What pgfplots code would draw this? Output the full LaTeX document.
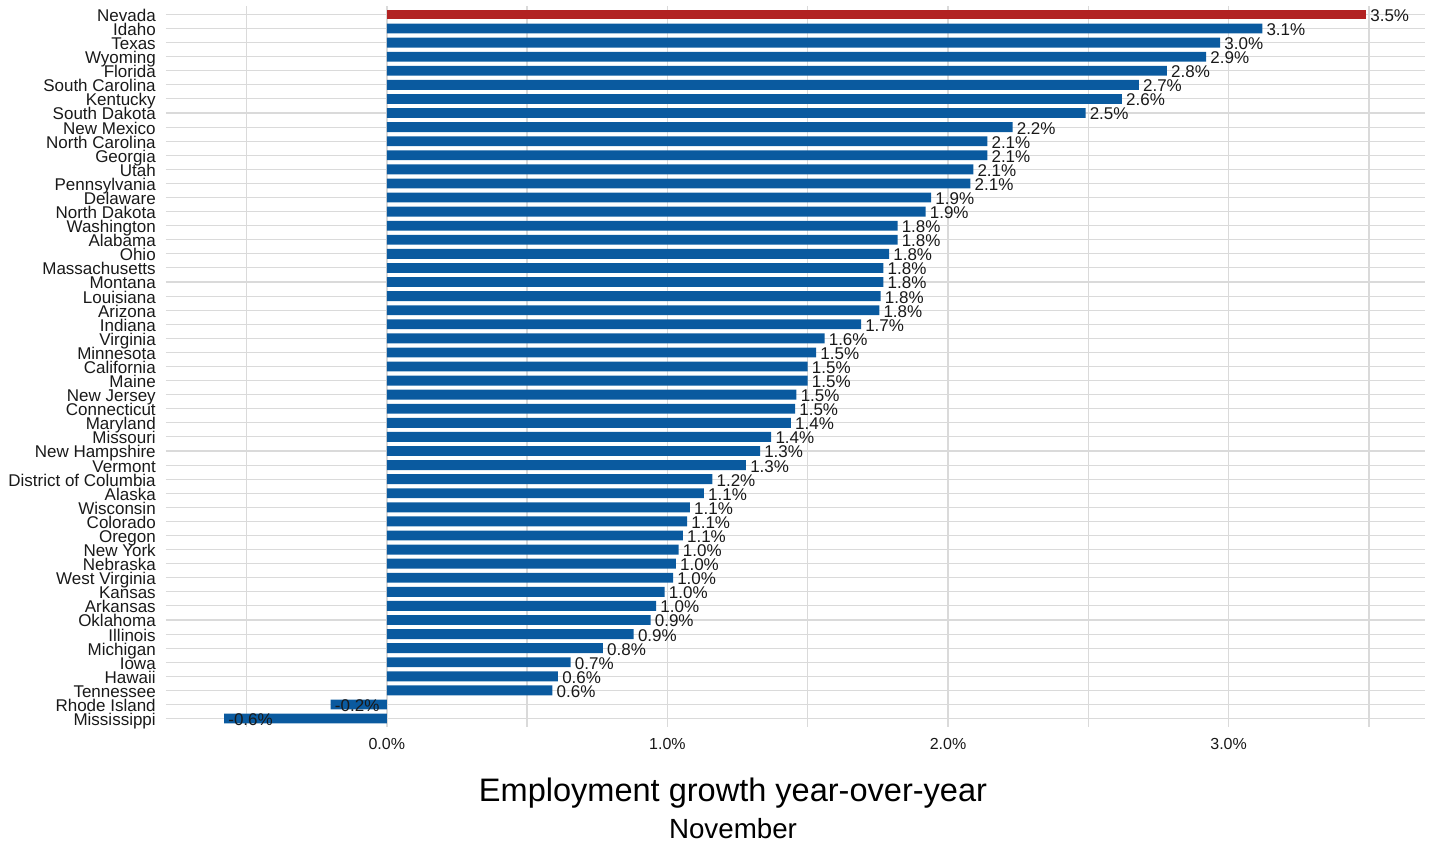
\documentclass[border=0pt]{standalone}
\usepackage{pgfplots}
\pgfplotsset{compat=1.18}
\usepackage{fontspec}
\setmainfont{Liberation Sans}

\definecolor{barblue}{HTML}{0A5A9F}
\definecolor{barred}{HTML}{B22222}
\definecolor{gridgray}{HTML}{DADADA}

% growth in %, row 0 = top of chart (Nevada)
\pgfplotstableread{
idx val
1 3.12
2 2.97
3 2.92
4 2.78
5 2.68
6 2.62
7 2.49
8 2.23
9 2.14
10 2.14
11 2.09
12 2.08
13 1.94
14 1.92
15 1.82
16 1.82
17 1.79
18 1.77
19 1.77
20 1.76
21 1.755
22 1.69
23 1.56
24 1.53
25 1.50
26 1.50
27 1.46
28 1.455
29 1.44
30 1.37
31 1.33
32 1.28
33 1.16
34 1.13
35 1.08
36 1.07
37 1.055
38 1.04
39 1.03
40 1.02
41 0.99
42 0.96
43 0.94
44 0.88
45 0.77
46 0.655
47 0.61
48 0.59
49 -0.20
50 -0.58
}\others

\begin{document}
\begin{tikzpicture}
\begin{axis}[
  at={(0,0)}, anchor=south west,
  scale only axis,
  width=944.25pt, height=540.75pt,
  xmin=-0.787, xmax=3.70,
  ymin=-0.6, ymax=50.6,
  y dir=reverse,
  clip=false,
  axis line style={draw=none},
  tick style={draw=none},
  major tick length=0pt, minor tick length=0pt,
  xtick={0,1,2,3},
  xticklabels={0.0\%,1.0\%,2.0\%,3.0\%},
  minor xtick={-0.5,0.5,1.5,2.5,3.5},
  xmajorgrids, xminorgrids, ymajorgrids,
  major x grid style={gridgray, line width=1.1pt},
  minor x grid style={gridgray, line width=1.1pt},
  major y grid style={gridgray, line width=0.8pt},
  ytick={0,...,50},
  yticklabels={Nevada,Idaho,Texas,Wyoming,Florida,South Carolina,Kentucky,South Dakota,New Mexico,North Carolina,Georgia,Utah,Pennsylvania,Delaware,North Dakota,Washington,Alabama,Ohio,Massachusetts,Montana,Louisiana,Arizona,Indiana,Virginia,Minnesota,California,Maine,New Jersey,Connecticut,Maryland,Missouri,New Hampshire,Vermont,District of Columbia,Alaska,Wisconsin,Colorado,Oregon,New York,Nebraska,West Virginia,Kansas,Arkansas,Oklahoma,Illinois,Michigan,Iowa,Hawaii,Tennessee,Rhode Island,Mississippi},
  yticklabel style={font=\fontsize{12.75}{14}\selectfont, text=black!90, anchor=base east, inner sep=0pt, xshift=-7.5pt, yshift=-5.2pt},
  xticklabel style={font=\fontsize{12}{14}\selectfont, text=black!90, anchor=base, inner sep=0pt, yshift=-16.5pt},
  /pgf/number format/assume math mode=true,
  point meta=x,
  nodes near coords={\pgfmathprintnumber[fixed,fixed zerofill,precision=1]{\pgfplotspointmeta}\%},
  every node near coord/.append style={font=\fontsize{12.75}{14}\selectfont, text=black!90, anchor=base west, inner sep=0pt, xshift=3pt, yshift=-5.2pt},
]
\addplot[xbar, bar width=0.7, bar shift=0pt, fill=barred, draw=none] coordinates {(3.49,0)};
\addplot[xbar, bar width=0.7, bar shift=0pt, fill=barblue, draw=none] table[x=val, y=idx] {\others};
\end{axis}
\node[anchor=base] at (425.25pt,-55.5pt) {\fontsize{24.4}{28}\selectfont Employment growth year-over-year};
\node[anchor=base] at (425.25pt,-83.5pt) {\fontsize{20.8}{24}\selectfont November};
\pgfresetboundingbox
\path (-124.5pt,-87.75pt) rectangle (950.25pt,545.25pt);
\end{tikzpicture}
\end{document}
